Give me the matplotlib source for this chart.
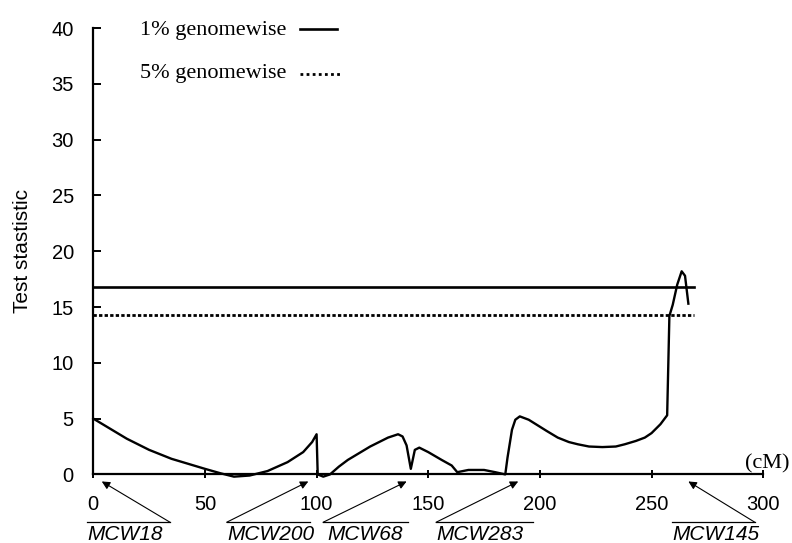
import matplotlib
matplotlib.use('Agg')
import matplotlib.pyplot as plt

# test statistic along the chromosome (cM)
pos_cm = [0, 2.5, 5, 10, 15, 20, 25, 30, 35, 40, 45, 50, 57, 63, 70, 78, 87, 94, 98, 100,
          100.5, 103, 106, 110, 114, 119, 124, 128, 132, 136.5, 138.5, 140.3, 142.2,
          144, 146, 150, 156, 160.5, 163, 168, 175, 180, 184.5, 185.5, 187.5, 189,
          191, 195, 199, 203, 208, 213, 217, 222, 228, 234, 238, 243, 247, 250, 254,
          257, 258, 259.5, 261.5, 263.5, 265, 266.5]
stat = [5.0, 4.7, 4.4, 3.8, 3.2, 2.7, 2.2, 1.8, 1.4, 1.1, 0.8, 0.5, 0.1, -0.2, -0.1,
        0.3, 1.1, 2.0, 2.9, 3.6,
        0.0, -0.2, 0.0, 0.7, 1.3, 1.9, 2.5, 2.9, 3.3, 3.6, 3.4, 2.6, 0.5,
        2.2, 2.4, 2.0, 1.3, 0.8, 0.2, 0.4, 0.4, 0.2, 0.0, 1.5, 4.0, 4.9,
        5.2, 4.9, 4.4, 3.9, 3.3, 2.9, 2.7, 2.5, 2.45, 2.5, 2.7, 3.0, 3.3, 3.7, 4.5,
        5.3, 14.2, 15.2, 17.0, 18.2, 17.8, 15.3]

thr_1pct = 16.8
thr_5pct = 14.3
thr_end = 269

markers = ['MCW18', 'MCW200', 'MCW68', 'MCW283', 'MCW145']
marker_cm = [3.8, 96.3, 140.3, 190.3, 266.5]
# label layout: text centre, overline extent, arrow tail (cM)
label_x = [14.2, 79.6, 121.7, 173.3, 278.8]
over_l = [-2.9, 59.7, 102.9, 153.5, 259.0]
over_r = [34.4, 97.0, 140.9, 196.8, 296.3]
tail_x = [34.4, 59.7, 102.9, 153.5, 296.3]

fig = plt.figure(figsize=(7.92, 5.43), dpi=100)
ax = fig.add_axes([0.1178, 0.1263, 0.8458, 0.8221])

ax.plot([0, thr_end], [thr_1pct, thr_1pct], color='black', lw=1.9)
ax.plot([0, thr_end], [thr_5pct, thr_5pct], color='black', lw=2.0, dashes=(1.2, 0.8))
ax.plot(pos_cm, stat, color='black', lw=1.7, clip_on=False)

ax.set_xlim(0, 300)
ax.set_ylim(0, 40)
ax.set_xticks(range(0, 301, 50))
ax.set_yticks(range(0, 41, 5))
for s in ['top', 'right']:
    ax.spines[s].set_visible(False)
ax.spines['left'].set_linewidth(1.6)
ax.spines['bottom'].set_linewidth(1.6)
ax.tick_params(axis='x', direction='inout', length=6, width=1.4, pad=12,
               labelsize=14.5, labelfontfamily='Liberation Sans')
ax.tick_params(axis='y', direction='in', length=6, width=1.4, pad=14,
               labelsize=14.5, labelfontfamily='Liberation Sans')
ax.set_ylabel('Test stastistic', fontsize=15, family='Liberation Sans')
ax.yaxis.set_label_coords(-0.0915, 0.5)

fig.text(790 / 792, 1 - 468 / 543, '(cM)', ha='right', va='baseline',
         fontsize=16, family='Liberation Serif')

# legend drawn as text plus line samples
ax.text(0.0697, 0.9843, '1% genomewise', transform=ax.transAxes, ha='left',
        va='baseline', fontsize=16, family='Liberation Serif')
ax.plot([0.3086, 0.3642], [0.9971, 0.9971], transform=ax.transAxes,
        color='black', lw=1.9, clip_on=False)
ax.text(0.0697, 0.8873, '5% genomewise', transform=ax.transAxes, ha='left',
        va='baseline', fontsize=16, family='Liberation Serif')
ax.plot([0.3086, 0.3682], [0.897, 0.897], transform=ax.transAxes,
        color='black', lw=2.0, dashes=(1.0, 1.2), clip_on=False)

# marker labels with overlines and arrows
for name, cm, lx, ol, orr, tx in zip(markers, marker_cm, label_x, over_l, over_r, tail_x):
    ax.annotate('', xy=(cm, -0.63), xytext=(tx, -4.29),
                arrowprops=dict(arrowstyle='-|>', lw=0.8, color='black',
                                mutation_scale=12, shrinkA=0, shrinkB=0),
                annotation_clip=False)
    ax.plot([ol, orr], [-4.29, -4.29], color='black', lw=0.9, clip_on=False)
    ax.text(lx, -5.9, name, ha='center', va='baseline', fontsize=15,
            style='italic', family='Liberation Sans')

plt.savefig('out.png', dpi=100)
